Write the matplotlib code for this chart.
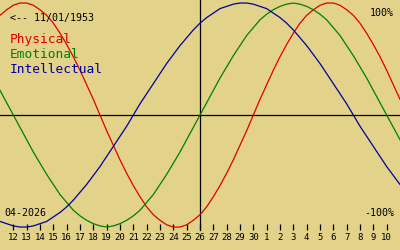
import matplotlib
matplotlib.use("Agg")
import matplotlib.pyplot as plt
import numpy as np

# samples every half day, 0 = 11 April
day = np.arange(61) / 2

physical = [0.89, 0.94, 0.98, 1.00, 1.00, 0.98, 0.94, 0.89, 0.82, 0.73, 0.63, 0.52,
            0.40, 0.27, 0.14, 0.00, -0.14, -0.27, -0.40, -0.52, -0.63, -0.73, -0.82,
            -0.89, -0.94, -0.98, -1.00, -1.00, -0.98, -0.94, -0.89, -0.82, -0.73, -0.63,
            -0.52, -0.40, -0.27, -0.14, 0.00, 0.14, 0.27, 0.40, 0.52, 0.63, 0.73, 0.82,
            0.89, 0.94, 0.98, 1.00, 1.00, 0.98, 0.94, 0.89, 0.82, 0.73, 0.63, 0.52,
            0.40, 0.27, 0.14]
emotional = [0.22, 0.11, 0.00, -0.11, -0.22, -0.33, -0.43, -0.53, -0.62, -0.71, -0.78,
             -0.85, -0.90, -0.94, -0.97, -0.99, -1.00, -0.99, -0.97, -0.94, -0.90, -0.85,
             -0.78, -0.71, -0.62, -0.53, -0.43, -0.33, -0.22, -0.11, 0.00, 0.11, 0.22,
             0.33, 0.43, 0.53, 0.62, 0.71, 0.78, 0.85, 0.90, 0.94, 0.97, 0.99, 1.00,
             0.99, 0.97, 0.94, 0.90, 0.85, 0.78, 0.71, 0.62, 0.53, 0.43, 0.33, 0.22,
             0.11, 0.00, -0.11, -0.22]
intellectual = [-0.95, -0.97, -0.99, -1.00, -1.00, -0.99, -0.97, -0.95, -0.91, -0.87,
                -0.82, -0.76, -0.69, -0.62, -0.54, -0.46, -0.37, -0.28, -0.19, -0.10,
                0.00, 0.10, 0.19, 0.28, 0.37, 0.46, 0.54, 0.62, 0.69, 0.76, 0.82, 0.87,
                0.91, 0.95, 0.97, 0.99, 1.00, 1.00, 0.99, 0.97, 0.95, 0.91, 0.87, 0.82,
                0.76, 0.69, 0.62, 0.54, 0.46, 0.37, 0.28, 0.19, 0.10, 0.00, -0.10, -0.19,
                -0.28, -0.37, -0.46, -0.54, -0.62]

tick_days = list(range(1, 30))
tick_labels = [str(d) for d in range(12, 31)] + [str(d) for d in range(1, 11)]
today = 15

bg = "#e2d28a"
red = "#e00000"
green = "#008000"
blue = "#0000a0"
mono = "DejaVu Sans Mono"

fig = plt.figure(figsize=(4, 2.5), dpi=100, facecolor=bg)
ax = fig.add_axes([0, 0, 1, 1], facecolor=bg)
ax.set_xlim(0, 30)
ax.set_ylim(-1.205, 1.027)

ax.axhline(0, color="black", lw=0.9)
ax.plot([today, today], [-1.027, 1.027], color="black", lw=0.9)

ax.plot(day, physical, color=red, lw=0.9)
ax.plot(day, emotional, color=green, lw=0.9)
ax.plot(day, intellectual, color=blue, lw=0.9)

# day ticks along the bottom
for s in ax.spines.values():
    s.set_visible(False)
ax.spines["bottom"].set_position(("data", -1.027))
ax.set_xticks(tick_days)
ax.set_xticklabels(tick_labels, fontsize=6.5, family=mono)
ax.tick_params(axis="x", direction="in", length=4.3, width=0.9, pad=2, color="black")
ax.set_yticks([])

def label(x, y, s, size, color="black", ha="left"):
    ax.text(x / 400, 1 - y / 250, s, transform=ax.transAxes, fontsize=size,
            family=mono, color=color, ha=ha, va="baseline")

label(10, 21, "<-- 11/01/1953", 7.2)
label(10, 43, "Physical", 9.3, red)
label(10, 58, "Emotional", 9.3, green)
label(10, 73, "Intellectual", 9.3, blue)
label(394, 16, "100%", 7.2, ha="right")
label(394, 216, "-100%", 7.2, ha="right")
label(4, 216, "04-2026", 7.2)

fig.savefig("out.png", dpi=100, facecolor=bg)
